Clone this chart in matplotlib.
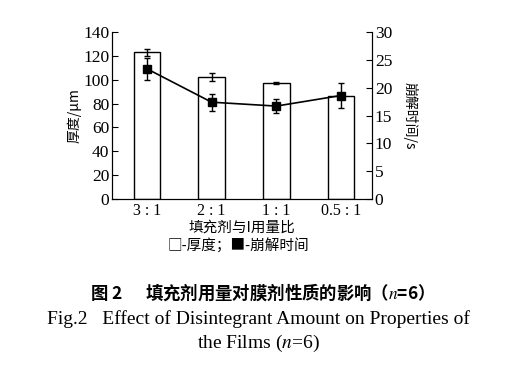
import matplotlib
matplotlib.use("Agg")
import matplotlib.pyplot as plt
import numpy as np

plt.rcParams["mathtext.fontset"] = "stix"

categories = ["3 : 1", "2 : 1", "1 : 1", "0.5 : 1"]
thickness = [123, 102.5, 97.5, 86.5]
thickness_err = [3, 3.5, 1, 0]
dis_time = [23.4, 17.4, 16.7, 18.6]
dis_err = [2.0, 1.5, 1.2, 2.2]

serif = ["Liberation Serif", "Noto Sans CJK SC"]
cjk = ["Noto Sans CJK SC", "Liberation Serif"]

fig = plt.figure(figsize=(5.16, 3.77), dpi=100)
ax = fig.add_axes([0.217, 0.472, 0.504, 0.443])
x = np.arange(len(categories))
ax.bar(x, thickness, width=0.41, color="white", edgecolor="black", linewidth=1.0, zorder=2)
ax.errorbar(x, thickness, yerr=thickness_err, fmt="none", ecolor="black", elinewidth=1, capsize=2.5, zorder=3)
ax.set_ylim(0, 140)
ax.set_yticks(range(0, 141, 20))
ax.set_xlim(-0.54, 3.48)
ax.set_xticks(x)
ax.set_xticklabels(categories, fontfamily=serif, fontsize=11.5)
ax.tick_params(axis="x", length=0, pad=3)
ax.tick_params(axis="y", direction="in", length=4, labelsize=12.5, pad=2)
for lab in ax.get_yticklabels():
    lab.set_fontfamily(serif)
ax.spines["top"].set_visible(False)
ax.set_ylabel("厚度/μm", fontfamily=cjk, fontsize=10, labelpad=1)

ax2 = ax.twinx()
ax2.errorbar(x, dis_time, yerr=dis_err, fmt="s-", color="black", markersize=6, linewidth=1.2,
             elinewidth=1, capsize=2.5, zorder=4)
ax2.set_ylim(0, 30)
ax2.set_yticks(range(0, 31, 5))
ax2.tick_params(axis="y", direction="in", length=4, labelsize=12.5, pad=2)
for lab in ax2.get_yticklabels():
    lab.set_fontfamily(serif)
ax2.spines["top"].set_visible(False)
ax2.set_ylabel("崩解时间/s", fontfamily=cjk, fontsize=10, rotation=270, labelpad=18)

fig.text(0.469, 0.397, "填充剂与I用量比", ha="center", va="center", fontfamily=cjk, fontsize=10.5)
fig.text(0.461, 0.348, "□-厚度；■-崩解时间", ha="center", va="center", fontfamily=cjk, fontsize=10.5)

fig.text(0.5, 0.226, "图 2      填充剂用量对膜剂性质的影响（$n$=6）", ha="center", va="center",
         fontfamily=cjk, fontsize=12.5, fontweight="bold")
fig.text(0.5, 0.153, "Fig.2   Effect of Disintegrant Amount on Properties of", ha="center", va="center",
         fontfamily=serif, fontsize=14)
fig.text(0.5, 0.088, "the Films ($n$=6)", ha="center", va="center", fontfamily=serif, fontsize=14)

fig.savefig("out.png", dpi=100, facecolor="white")
